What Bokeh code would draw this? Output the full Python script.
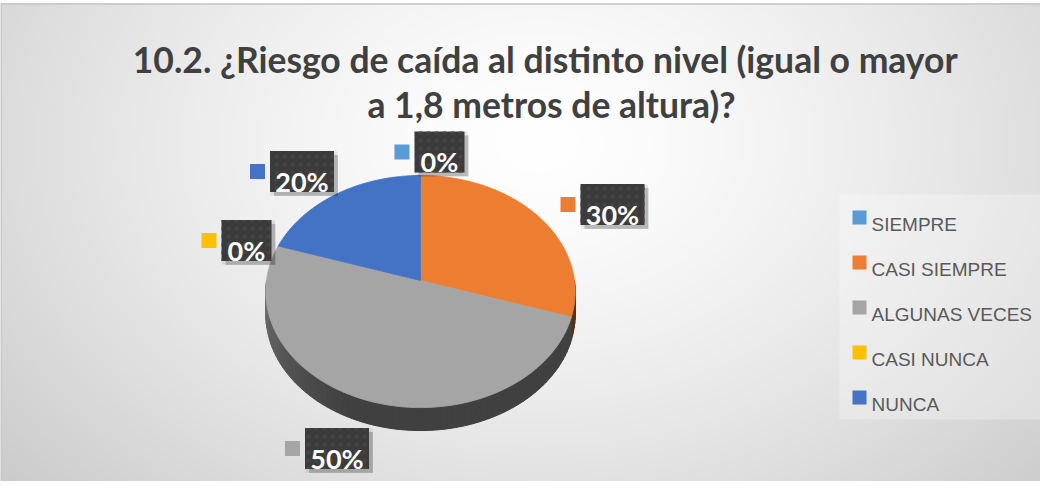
import numpy as np
from bokeh.plotting import figure
from bokeh.models import Range1d
from bokeh.core.properties import value
from bokeh.embed import file_html
from bokeh.resources import INLINE

# ---------------- data ----------------
categories = ["SIEMPRE", "CASI SIEMPRE", "ALGUNAS VECES", "CASI NUNCA", "NUNCA"]
percentages = [0, 30, 50, 0, 20]
colors = ["#5B9BD5", "#ED7D31", "#A5A5A5", "#FFC000", "#4472C4"]
title_lines = ["10.2.  ¿Riesgo de caída al distinto nivel (igual o mayor",
               "a 1,8 metros de altura)?"]

# ---------------- layout ----------------
W, H = 1040, 481
def X(px):
    return px - 8
def Y(py):
    return 489 - py

CX, CY, RX, RY, K, DEPTH = 428, 288, 154, 115, 0.095, 23
LABEL_CENTERS = [(447, 159.5), (620, 212), (344.5, 456), (254, 248), (309.5, 179)]
TITLE_FONT = "Lato, 'Liberation Sans', sans-serif"
BODY_FONT = "'Liberation Sans', Arial, sans-serif"

p = figure(width=W, height=H, x_range=Range1d(0, W), y_range=Range1d(0, H),
           output_backend="svg", toolbar_location=None, min_border=0,
           background_fill_color="white", border_fill_color="white")
p.axis.visible = False
p.grid.visible = False
p.outline_line_color = None

# background radial gradient
gw, gh = 520, 239
top_page, bot_page = 11, 489
xs_page = 8 + (np.arange(gw) + 0.5) * (1040 / gw)
ys_page = bot_page - (np.arange(gh) + 0.5) * ((bot_page - top_page) / gh)
XX, YY = np.meshgrid(xs_page, ys_page)
d = np.sqrt(((XX - 545) / 650.0) ** 2 + ((YY - 150) / 470.0) ** 2)
g = np.clip(255 - 46 * np.clip(d, 0, 1.3) ** 1.4, 0, 255).astype(np.uint8)
img = np.empty((gh, gw), dtype=np.uint32)
view = img.view(dtype=np.uint8).reshape((gh, gw, 4))
view[:, :, 0] = g
view[:, :, 1] = g
view[:, :, 2] = g
view[:, :, 3] = 255
p.image_rgba(image=[img], x=0, y=0, dw=1040, dh=Y(top_page))

# chart border (left / top)
p.line([X(8.5), X(8.5), X(1048)], [Y(489), Y(11.5), Y(11.5)], line_color="#c4c4c4", line_width=1.5)

# ---------------- pie ----------------
cum = np.concatenate([[0], np.cumsum(percentages)]) / 100.0 * 360.0

def ell(theta, dy=0.0):
    t = np.radians(theta)
    u, v = np.sin(t), np.cos(t)
    f = 1.0 + K * v
    return X(CX + RX * u / f), Y(CY - RY * v / f + dy)

def shade(hexcol, f):
    r, g_, b = int(hexcol[1:3], 16), int(hexcol[3:5], 16), int(hexcol[5:7], 16)
    return "#%02x%02x%02x" % (int(r * f), int(g_ * f), int(b * f))

# side walls (front half only)
sx, sy, sc = [], [], []
for i, col in enumerate(colors):
    s, e = cum[i], cum[i + 1]
    a0, a1 = max(s, 90.0), min(e, 270.0)
    if a1 <= a0:
        continue
    n = max(2, int((a1 - a0) / 2) + 1)
    th = np.linspace(a0, a1, n)
    for k in range(n - 1):
        t0, t1 = th[k], th[k + 1]
        tm = 0.5 * (t0 + t1)
        f = 0.39 + 0.30 * np.clip((tm - 200.0) / 70.0, 0, 1) ** 1.3
        x0, y0 = ell(t0)
        x1, y1 = ell(t1)
        x2, y2 = ell(t1, DEPTH)
        x3, y3 = ell(t0, DEPTH)
        sx.append([x0, x1, x2, x3])
        sy.append([y0, y1, y2, y3])
        sc.append(shade(col, f))
p.patches(sx, sy, fill_color=sc, line_color=sc, line_width=1)

# top surfaces
tx, ty, tc = [], [], []
for i, col in enumerate(colors):
    s, e = cum[i], cum[i + 1]
    if e - s <= 0:
        continue
    th = np.linspace(s, e, max(3, int(e - s) + 1))
    ex, ey = ell(th)
    tx.append([X(CX)] + list(ex))
    ty.append([Y(CY)] + list(ey))
    tc.append(col)
p.patches(tx, ty, fill_color=tc, line_color=tc, line_width=0.8)

# ---------------- data labels ----------------
lab_text = [f"{v}%" for v in percentages]
bw = [22 + 14 * len(t) for t in lab_text]
bh = 41
bx = [X(c[0]) for c in LABEL_CENTERS]
by = [Y(c[1]) for c in LABEL_CENTERS]
# shadow
p.rect([x + 4 for x in bx], [y - 4 for y in by], width=bw, height=bh,
       fill_color="black", fill_alpha=0.20, line_color=None)
p.rect([x + 2 for x in bx], [y - 2 for y in by], width=[w + 3 for w in bw], height=bh + 3,
       fill_color="black", fill_alpha=0.08, line_color=None)
p.rect(bx, by, width=bw, height=bh, fill_color="#3b3b3b", line_color=None,
       hatch_pattern=".", hatch_color="#444444", hatch_scale=8, hatch_weight=1)
p.text(bx, [y - 9.5 for y in by], text=lab_text, text_font=value(TITLE_FONT),
       text_font_size=value("27px"), text_font_style="bold", text_color="white",
       text_align="center", text_baseline="alphabetic")
# key squares
kx = [x - w / 2 - 5 - 7.5 for x, w in zip(bx, bw)]
p.rect(kx, by, width=15, height=15, fill_color=colors, line_color=None)

# ---------------- legend ----------------
p.quad(left=X(847), right=X(1051), top=Y(202), bottom=Y(427),
       fill_color="white", fill_alpha=0.28, line_color=None)
rows = [225 + 45 * i for i in range(len(categories))]
p.rect([X(867)] * len(categories), [Y(r) for r in rows], width=14, height=14,
       fill_color=colors, line_color=None)
p.text([X(879)] * len(categories), [Y(r + 7) for r in rows], text=categories,
       text_font=value(BODY_FONT), text_font_size=value("19px"), text_color="#595959",
       text_align="left", text_baseline="alphabetic")

# ---------------- title ----------------
p.text([X(557), X(559)], [Y(67), Y(112)], text=title_lines, text_font=value(TITLE_FONT),
       text_font_size=value("35.5px"), text_font_style="bold", text_color="#404040",
       text_align="center", text_baseline="alphabetic")

open("out.html", "w").write(file_html(p, INLINE))
